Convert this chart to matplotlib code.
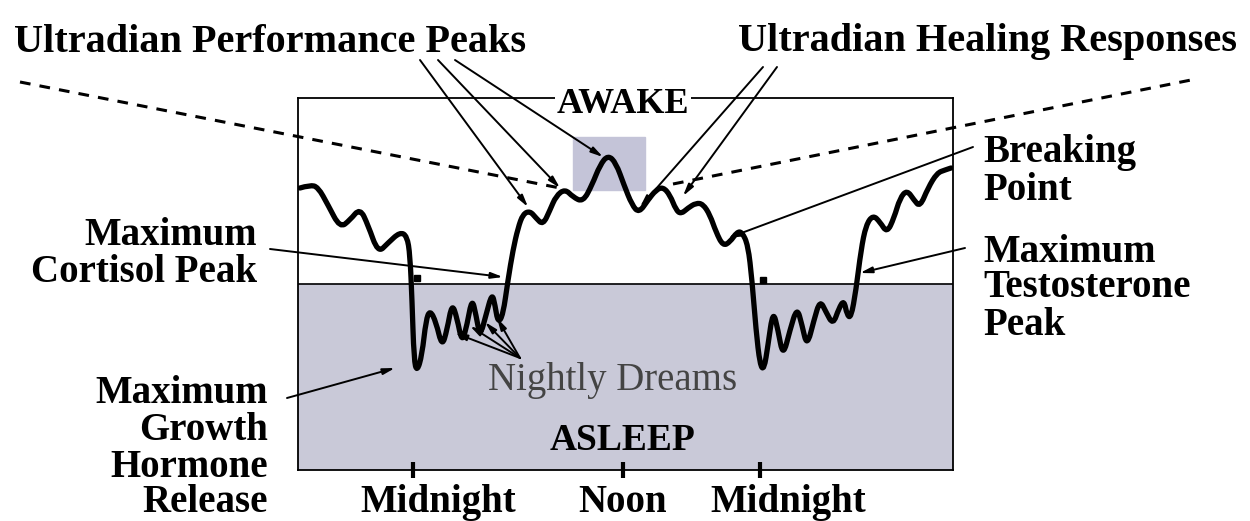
import matplotlib
matplotlib.use("Agg")
import matplotlib.pyplot as plt
from matplotlib.patches import Rectangle, PathPatch
from matplotlib.path import Path

plt.rcParams["font.family"] = ["Liberation Serif", "DejaVu Serif"]

# Box coordinates: x = time position (0..655), y = level (0 = bottom, 372 = top)
XMAX, YMAX = 655, 372
SLEEP_LINE = 186

# Daily rhythm curve (evening, night, day, night, morning)
curve_x = [2, 12, 20, 30, 42, 52, 62, 70, 80, 90, 102, 109, 112, 114, 116, 119,
           124, 128, 132, 138, 144, 149, 154, 159, 164, 169, 174, 178, 182, 188,
           194, 197, 200, 205, 210, 215, 220, 225, 232, 238, 245, 252, 258, 267,
           275, 285, 294, 302, 310, 318, 326, 334, 341, 350, 358, 365, 372, 378,
           383, 390, 398, 405, 412, 418, 425, 432, 439, 444, 450, 454, 458, 462,
           466, 470, 475, 480, 485, 492, 499, 504, 509, 516, 522, 528, 535, 541,
           546, 549, 553, 558, 563, 568, 575, 582, 589, 596, 602, 609, 616, 622,
           630, 639, 647, 653]
curve_y = [282, 285, 283, 265, 242, 250, 262, 245, 217, 227, 238, 234, 215, 170,
           110, 98, 115, 150, 160, 148, 123, 140, 167, 152, 127, 145, 172, 155,
           133, 155, 177, 165, 147, 155, 190, 220, 242, 256, 259, 252, 245, 260,
           274, 281, 273, 268, 285, 305, 315, 307, 285, 265, 257, 270, 280, 283,
           275, 260, 256, 262, 267, 266, 255, 238, 224, 228, 238, 238, 225, 190,
           140, 105, 100, 125, 160, 140, 113, 140, 163, 145, 123, 150, 170, 158,
           145, 162, 170, 155, 152, 180, 220, 245, 255, 248, 237, 252, 272, 280,
           270, 263, 282, 297, 300, 302]

# Dashed trend lines
trend_left_x, trend_left_y = [-278, 262], [388, 282]
trend_right_x, trend_right_y = [375, 898], [286, 391]

# Time axis
tick_pos = [115, 325, 462]
tick_labels = ["Midnight", "Noon", "Midnight"]
tick_label_x = [140, 325, 490]

# Marker rectangle near the midday peak
peak_box = (275, 280, 72, 53)

# Arrows: (start, end)
perf_arrows = [((122, 410), (230, 263)), ((140, 410), (262, 282)),
               ((157, 410), (305, 313))]
heal_arrows = [((465, 403), (342, 263)), ((479, 403), (385, 274))]
dream_arrows = [((222, 112), (157, 137)), ((222, 112), (172, 144)),
                ((222, 112), (187, 148)), ((222, 112), (199, 152))]
other_arrows = [((675, 323), (430, 232)),   # breaking point
                ((667, 222), (562, 197)),   # testosterone
                ((-28, 221), (205, 193)),   # cortisol
                ((-11, 72), (97, 102))]     # growth hormone

# Labels: (text, x, baseline y, align)
titles = [("Ultradian Performance Peaks", -28, 418),
          ("Ultradian Healing Responses", 690, 419)]
side_labels = [("Maximum", -41, 225, "right"), ("Cortisol Peak", -41, 188, "right"),
               ("Maximum", -30, 67, "right"), ("Growth", -30, 30, "right"),
               ("Hormone", -30, -7, "right"), ("Release", -30, -42, "right"),
               ("Breaking", 685, 308, "left"), ("Point", 685, 270, "left"),
               ("Maximum", 685, 208, "left"), ("Testosterone", 685, 173, "left"),
               ("Peak", 685, 135, "left")]

SHADE = "#c9c9d8"


def smooth_path(xs, ys):
    # quadratic bezier through midpoints, read points act as control points
    pts = list(zip(xs, ys))
    verts, codes = [pts[0]], [Path.MOVETO]
    for i in range(1, len(pts) - 1):
        mid = ((pts[i][0] + pts[i + 1][0]) / 2, (pts[i][1] + pts[i + 1][1]) / 2)
        verts += [pts[i], mid]
        codes += [Path.CURVE3, Path.CURVE3]
    verts.append(pts[-1])
    codes.append(Path.LINETO)
    return Path(verts, codes)


fig = plt.figure(figsize=(12.5, 5.21), dpi=100)
ax = fig.add_axes([298 / 1250, 51 / 521, 655 / 1250, 372 / 521])
ax.set_xlim(0, XMAX)
ax.set_ylim(0, YMAX)

ax.axhspan(0, SLEEP_LINE, color=SHADE, zorder=0)
ax.axhline(SLEEP_LINE, color="black", lw=1.2, zorder=1)
ax.add_patch(Rectangle(peak_box[:2], peak_box[2], peak_box[3],
                       color="#c4c4d8", zorder=0.5))

for s in ax.spines.values():
    s.set_linewidth(1.3)
ax.set_yticks([])
ax.set_xticks(tick_pos, [""] * len(tick_pos))
ax.tick_params(axis="x", direction="inout", length=12, width=3, color="black")

for lab, x in zip(tick_labels, tick_label_x):
    ax.text(x, -42, lab, ha="center", va="baseline", fontsize=28,
            fontweight="bold", clip_on=False)

# trend lines
for tx, ty in [(trend_left_x, trend_left_y), (trend_right_x, trend_right_y)]:
    ax.plot(tx, ty, color="black", lw=2.2, dashes=(3.5, 3), clip_on=False, zorder=2)

# rhythm curve
ax.add_patch(PathPatch(smooth_path(curve_x, curve_y), facecolor="none",
                       edgecolor="black", lw=3.8, joinstyle="round",
                       capstyle="round", zorder=3))
ax.plot([119, 465], [192, 190], ls="none", marker="s", ms=4, color="black", zorder=3)

arrow_props = dict(arrowstyle="-|>,head_length=0.7,head_width=0.18",
                   color="black", lw=1.4, shrinkA=0, shrinkB=0)
for start, end in perf_arrows + heal_arrows + dream_arrows + other_arrows:
    ax.annotate("", xy=end, xytext=start, arrowprops=arrow_props,
                annotation_clip=False, zorder=4)

for txt, x, y in titles:
    ax.text(x, y, txt, ha="center", va="baseline", fontsize=29,
            fontweight="bold", clip_on=False)
for txt, x, y, ha in side_labels:
    ax.text(x, y, txt, ha=ha, va="baseline", fontsize=28,
            fontweight="bold", clip_on=False)

ax.text(325, 366, "AWAKE", ha="center", va="center", fontsize=26,
        fontweight="bold", clip_on=False, zorder=5,
        bbox=dict(facecolor="white", edgecolor="none", pad=1))
ax.text(325, 20, "ASLEEP", ha="center", va="baseline", fontsize=27,
        fontweight="bold", zorder=5)
ax.text(315, 80, "Nightly Dreams", ha="center", va="baseline", fontsize=28,
        color="#444444", zorder=5)

fig.savefig("out.png", dpi=100)
